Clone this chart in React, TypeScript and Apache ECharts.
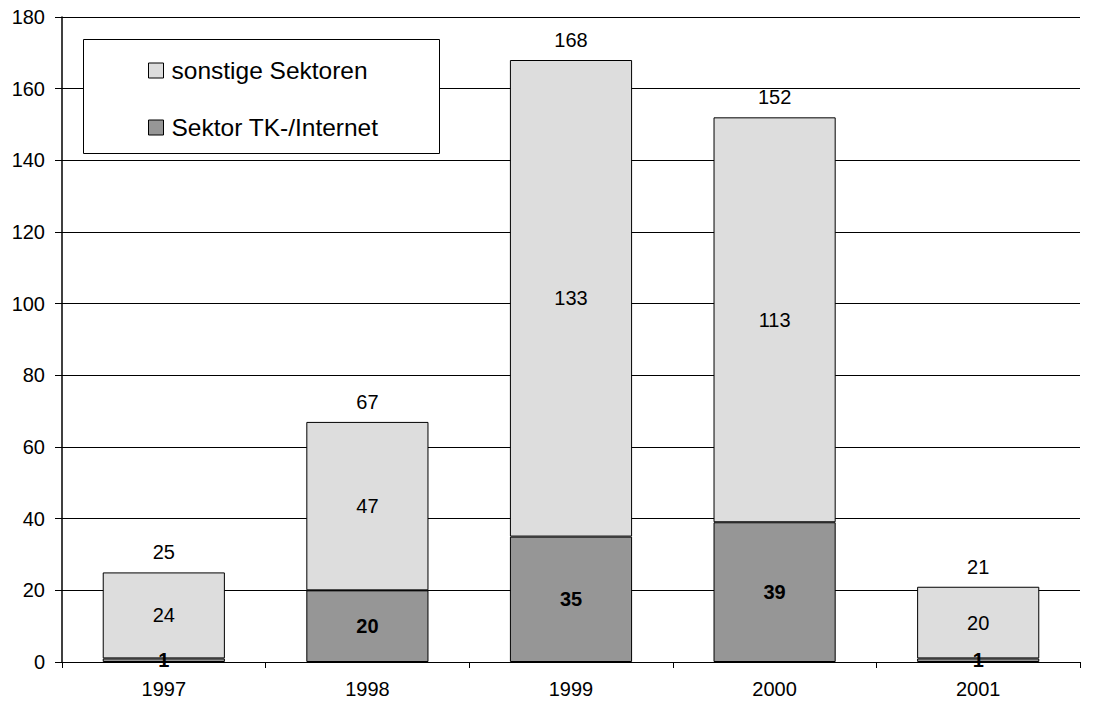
import React, { useEffect, useRef } from "react";
import * as echarts from "echarts";

const years = ["1997", "1998", "1999", "2000", "2001"];
const sonstige = [24, 47, 133, 113, 20];
const tkInternet = [1, 20, 35, 39, 1];
const totals = [25, 67, 168, 152, 21];
const yTicks = [0, 20, 40, 60, 80, 100, 120, 140, 160, 180];

const FONT = "'Liberation Sans', Arial, sans-serif";

export default function App() {
  const ref = useRef<HTMLDivElement>(null);
  useEffect(() => {
    if (!ref.current) return;
    const chart = echarts.init(ref.current, undefined, { renderer: "svg" });
    chart.setOption({
      animation: false,
      backgroundColor: "#ffffff",
      textStyle: { fontFamily: FONT },
      grid: { left: 62, right: 15, top: 17, bottom: 41, containLabel: false },
      graphic: [
        {
          type: "rect",
          left: 83,
          top: 39,
          shape: { width: 356, height: 114 },
          style: { fill: "#ffffff", stroke: "#000000", lineWidth: 1 },
          z: 5,
        },
      ],
      legend: {
        data: ["sonstige Sektoren", "Sektor TK-/Internet"],
        orient: "vertical",
        left: 148,
        top: 58,
        padding: 0,
        itemGap: 32,
        itemWidth: 15,
        itemHeight: 15,
        icon: "rect",
        z: 10,
        textStyle: {
          fontFamily: FONT,
          fontSize: 24.5,
          lineHeight: 24,
          color: "#000",
          padding: [0, 0, 0, 3],
        },
        itemStyle: { borderColor: "#000", borderWidth: 1 },
      },
      xAxis: {
        type: "category",
        data: years,
        axisLine: { lineStyle: { color: "#000", width: 1 } },
        axisTick: { show: true, length: 6, lineStyle: { color: "#000" } },
        axisLabel: { color: "#000", fontSize: 20, fontFamily: FONT, margin: 17 },
      },
      yAxis: {
        type: "value",
        min: 0,
        max: 180,
        interval: 20,
        axisLine: { show: true, lineStyle: { color: "#000", width: 1.5 } },
        axisTick: { show: true, length: 7, lineStyle: { color: "#000" } },
        axisLabel: {
          color: "#000",
          fontSize: 20,
          fontFamily: FONT,
          margin: 17,
          formatter: (v: number) => (yTicks.includes(v) ? String(v) : ""),
        },
        splitLine: { show: true, lineStyle: { color: "#000", width: 1 } },
      },
      series: [
        {
          name: "Sektor TK-/Internet",
          type: "bar",
          stack: "a",
          barWidth: "60%",
          data: tkInternet,
          itemStyle: { color: "#969696", borderColor: "#000", borderWidth: 1 },
          label: {
            show: true,
            position: "inside",
            color: "#000",
            fontSize: 20,
            fontWeight: "bold",
            fontFamily: FONT,
          },
        },
        {
          name: "sonstige Sektoren",
          type: "bar",
          stack: "a",
          barWidth: "60%",
          data: sonstige,
          itemStyle: { color: "#dddddd", borderColor: "#000", borderWidth: 1 },
          label: {
            show: true,
            position: "inside",
            color: "#000",
            fontSize: 20,
            fontFamily: FONT,
          },
        },
        {
          name: "Summe",
          type: "bar",
          stack: "a",
          barWidth: "60%",
          data: totals.map(() => 0),
          itemStyle: { color: "transparent" },
          label: {
            show: true,
            position: "top",
            distance: 10,
            color: "#000",
            fontSize: 20,
            fontFamily: FONT,
            formatter: (p: any) => String(totals[p.dataIndex]),
          },
        },
      ],
    });
    return () => chart.dispose();
  }, []);
  return (
    <div
      ref={ref}
      style={{ position: "absolute", left: 0, top: 0, width: 1095, height: 703 }}
    />
  );
}
